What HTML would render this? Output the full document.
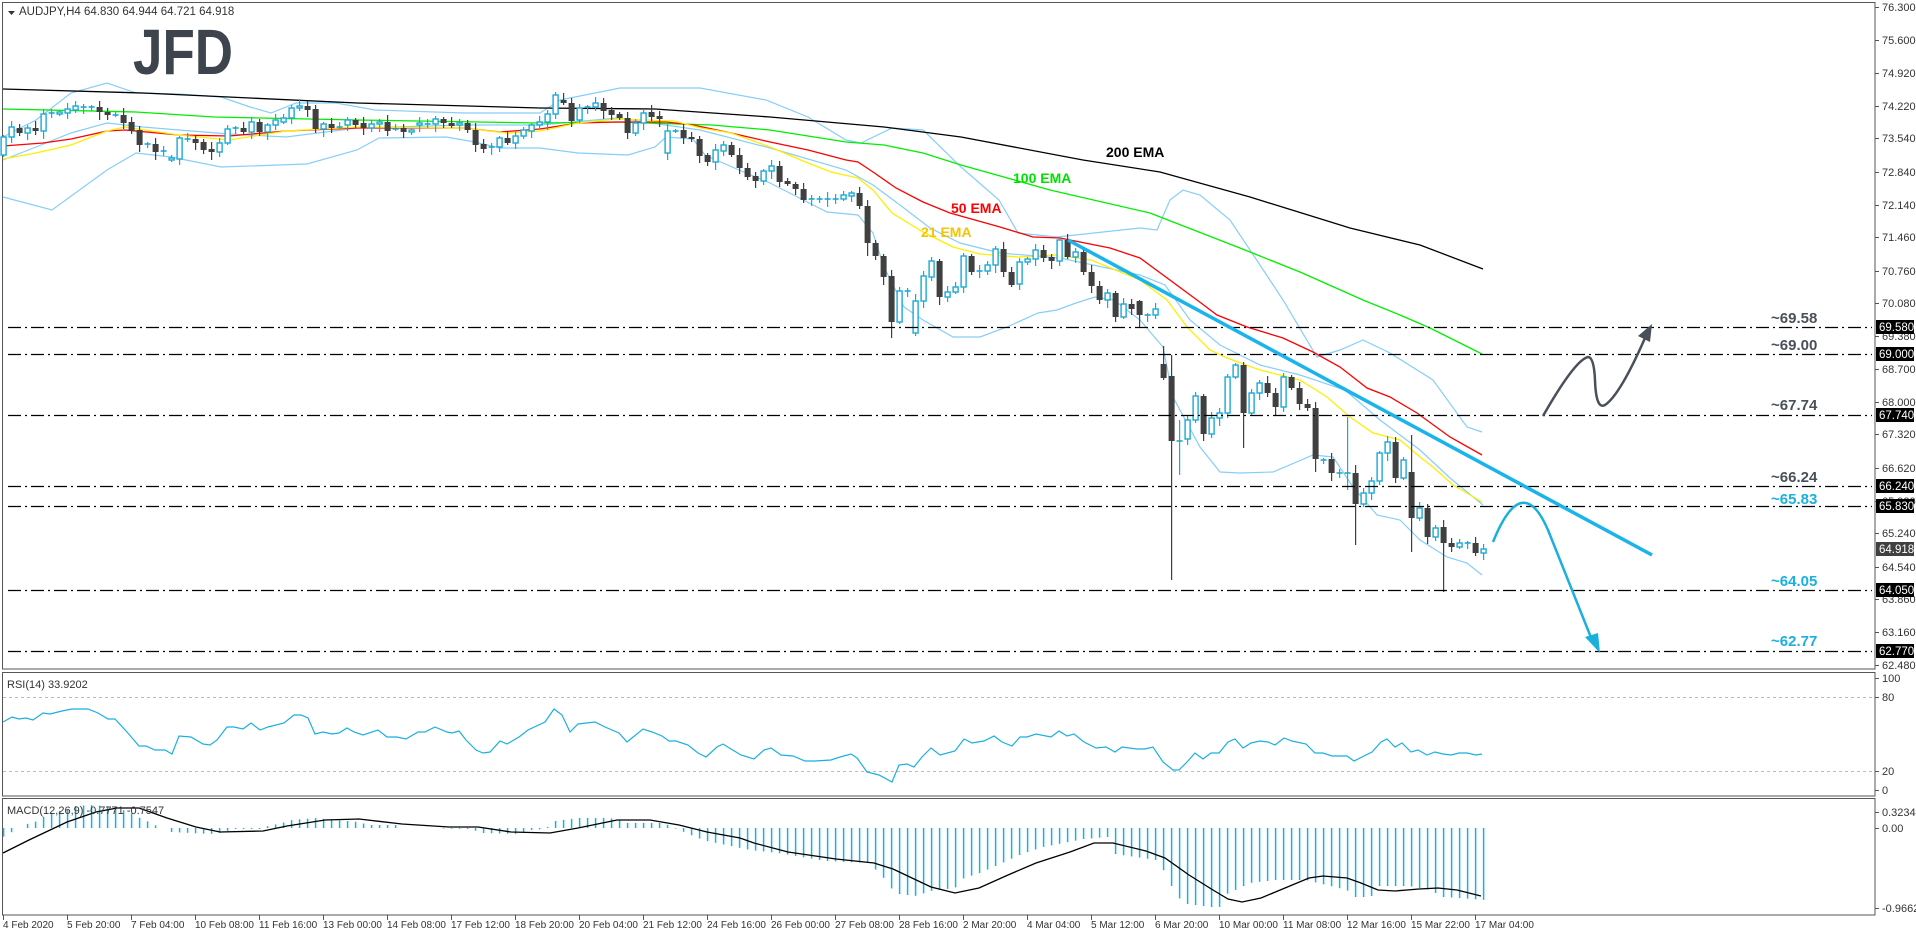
<!DOCTYPE html>
<html><head><meta charset="utf-8"><style>
html,body{margin:0;padding:0;background:#fff;}
svg{display:block;font-family:"Liberation Sans",Arial,sans-serif;}
.ax{font-size:11px;fill:#333;}
.tx{font-size:10px;fill:#333;}
.bx{font-size:11.5px;fill:#fff;}
.lv{font-size:15px;font-weight:bold;}
.em{font-size:14px;font-weight:bold;}
</style></head><body>
<svg id="s" width="1916" height="936" viewBox="0 0 1916 936" xmlns="http://www.w3.org/2000/svg">
<rect width="1916" height="936" fill="#fff"/>
<g fill="none" stroke="#555" stroke-width="1">
<rect x="2.5" y="2.5" width="1872.5" height="666.5"/>
<rect x="2.5" y="672.5" width="1872.5" height="123.5"/>
<rect x="2.5" y="798.5" width="1872.5" height="116.5"/>
</g>
<g stroke="#bbb" stroke-dasharray="3,3" stroke-width="1">
<line x1="3" y1="697.5" x2="1875" y2="697.5"/>
<line x1="3" y1="771.5" x2="1875" y2="771.5"/>
</g>
<text x="133" y="74" font-size="64" font-weight="bold" fill="#3d444d" textLength="100" lengthAdjust="spacingAndGlyphs">JFD</text>
<path d="M8 11 L15 11 L11.5 15 Z" fill="#333"/>
<text x="19" y="15" class="ax" style="font-size:11.5px">AUDJPY,H4  64.830 64.944 64.721 64.918</text>
<g id="dyn"></g>
<g stroke="#000" stroke-width="1.2" stroke-dasharray="13,4,2,4">
<line x1="8" y1="327.5" x2="1872" y2="327.5"/>
<line x1="8" y1="354.5" x2="1872" y2="354.5"/>
<line x1="8" y1="415.5" x2="1872" y2="415.5"/>
<line x1="8" y1="486.5" x2="1872" y2="486.5"/>
<line x1="8" y1="506.5" x2="1872" y2="506.5"/>
<line x1="8" y1="590.5" x2="1872" y2="590.5"/>
<line x1="8" y1="651.5" x2="1872" y2="651.5"/>
</g>
<g class="lv">
<text x="1771" y="323" fill="#4a5059">~69.58</text>
<text x="1771" y="350" fill="#4a5059">~69.00</text>
<text x="1771" y="410" fill="#4a5059">~67.74</text>
<text x="1771" y="482" fill="#4a5059">~66.24</text>
<text x="1771" y="504" fill="#1ab0e0">~65.83</text>
<text x="1771" y="586" fill="#1ab0e0">~64.05</text>
<text x="1771" y="646" fill="#1ab0e0">~62.77</text>
</g>
<text x="1106" y="157" class="em" fill="#000">200 EMA</text>
<text x="1013" y="183" class="em" fill="#00e000">100 EMA</text>
<text x="951" y="213" class="em" fill="#ff0000">50 EMA</text>
<text x="921" y="237" class="em" fill="#f5c400">21 EMA</text>
<line x1="1068" y1="240" x2="1652" y2="555" stroke="#1ab4ea" stroke-width="3.5"/>
<path d="M1493 542 Q1522 470 1548 530 L1592 640" fill="none" stroke="#1ab0dc" stroke-width="2.5"/>
<path d="M1600 653 L1585 637 L1598 633 Z" fill="#1ab0dc"/>
<path d="M1543 416 Q1575 360 1588 357 Q1594 357 1595 380 Q1596 410 1605 405 Q1620 395 1645 338" fill="none" stroke="#4a5059" stroke-width="2.5"/>
<path d="M1652 324 L1638 336 L1650 342 Z" fill="#4a5059"/>
<g class="ax">
<text x="1882" y="11">76.300</text><text x="1882" y="44">75.600</text><text x="1882" y="77">74.920</text>
<text x="1882" y="110">74.220</text><text x="1882" y="142">73.540</text><text x="1882" y="176">72.840</text>
<text x="1882" y="209">72.140</text><text x="1882" y="241">71.460</text><text x="1882" y="275">70.760</text>
<text x="1882" y="307">70.080</text><text x="1882" y="340">69.380</text><text x="1882" y="373">68.700</text>
<text x="1882" y="406">68.000</text><text x="1882" y="438">67.320</text><text x="1882" y="472">66.620</text>
<text x="1882" y="505">65.920</text><text x="1882" y="537">65.240</text><text x="1882" y="571">64.540</text>
<text x="1882" y="603">63.860</text><text x="1882" y="636">63.160</text><text x="1882" y="669">62.480</text>
<text x="1882" y="682">100</text><text x="1882" y="701">80</text><text x="1882" y="775">20</text><text x="1882" y="794">0</text>
<text x="1882" y="816">0.3234</text><text x="1882" y="832">0.00</text><text x="1882" y="912">-0.9662</text>
</g>
<g>
<rect x="1876" y="320" width="38" height="14" fill="#000"/><text x="1879" y="331" class="bx">69.580</text>
<rect x="1876" y="347" width="38" height="14" fill="#000"/><text x="1879" y="358" class="bx">69.000</text>
<rect x="1876" y="408" width="38" height="14" fill="#000"/><text x="1879" y="419" class="bx">67.740</text>
<rect x="1876" y="479" width="38" height="14" fill="#000"/><text x="1879" y="490" class="bx">66.240</text>
<rect x="1876" y="499" width="38" height="14" fill="#000"/><text x="1879" y="510" class="bx">65.830</text>
<rect x="1876" y="583" width="38" height="14" fill="#000"/><text x="1879" y="594" class="bx">64.050</text>
<rect x="1876" y="644" width="38" height="14" fill="#000"/><text x="1879" y="655" class="bx">62.770</text>
<rect x="1876" y="542" width="38" height="14" fill="#404040"/><text x="1879" y="553" class="bx">64.918</text>
</g>
<text x="7" y="688" class="ax">RSI(14) 33.9202</text>
<text x="7" y="814" class="ax">MACD(12,26,9) -0.7771 -0.7547</text>
<g class="tx">
<text x="3" y="928">4 Feb 2020</text><text x="67" y="928">5 Feb 20:00</text><text x="131" y="928">7 Feb 04:00</text>
<text x="195" y="928">10 Feb 08:00</text><text x="259" y="928">11 Feb 16:00</text><text x="323" y="928">13 Feb 00:00</text>
<text x="387" y="928">14 Feb 08:00</text><text x="451" y="928">17 Feb 12:00</text><text x="515" y="928">18 Feb 20:00</text>
<text x="579" y="928">20 Feb 04:00</text><text x="643" y="928">21 Feb 12:00</text><text x="707" y="928">24 Feb 16:00</text>
<text x="771" y="928">26 Feb 00:00</text><text x="835" y="928">27 Feb 08:00</text><text x="899" y="928">28 Feb 16:00</text>
<text x="963" y="928">2 Mar 20:00</text><text x="1027" y="928">4 Mar 04:00</text><text x="1091" y="928">5 Mar 12:00</text>
<text x="1155" y="928">6 Mar 20:00</text><text x="1219" y="928">10 Mar 00:00</text><text x="1283" y="928">11 Mar 08:00</text>
<text x="1347" y="928">12 Mar 16:00</text><text x="1411" y="928">15 Mar 22:00</text><text x="1475" y="928">17 Mar 04:00</text>
</g>
<g id="ticks" stroke="#555"></g>
</svg>
<script>
(function(){
var NS="http://www.w3.org/2000/svg";
var dyn=document.getElementById('dyn');
function el(t,a,p){var e=document.createElementNS(NS,t);for(var k in a)e.setAttribute(k,a[k]);(p||dyn).appendChild(e);return e;}
function poly(pts,col,w){el('polyline',{points:pts.map(function(p){return p[0]+','+p[1]}).join(' '),fill:'none',stroke:col,'stroke-width':w||1});}
var tk=document.getElementById('ticks');
for(var k=0;k<24;k++){var x=3.5+64*k;el('line',{x1:x,y1:915,x2:x,y2:920},tk);}
for(var y of [7,40,73,106,138,172,205,237,271,303,336,369,402,434,468,501,533,567,599,632,665,678,697,771,790,812,828,908]) el('line',{x1:1875,y1:y+.5,x2:1879,y2:y+.5,stroke:'#555'});
var ub=[[3,137],[36,120],[71,93],[107,83],[136,93],[179,94],[221,97],[250,107],[271,113],[296,103],[336,103],[375,110],[464,113],[540,113],[560,100],[620,88],[700,88],[766,100],[808,117],[846,140],[861,143],[892,128],[923,130],[961,167],[999,200],[1018,233],[1057,237],[1140,228],[1157,230],[1170,200],[1183,190],[1200,195],[1230,220],[1260,265],[1283,300],[1317,357],[1340,350],[1363,340],[1390,353],[1433,380],[1467,427],[1482,432]];
var mb=[[3,160],[36,147],[71,133],[107,123],[143,127],[179,130],[229,134],[286,137],[357,128],[464,125],[540,125],[617,118],[700,130],[770,148],[846,170],[873,185],[900,205],[930,228],[960,243],[1000,253],[1060,258],[1140,275],[1165,285],[1190,320],[1220,345],[1260,365],[1300,375],[1345,390],[1380,420],[1420,450],[1450,478],[1483,505]];
var lb=[[3,197],[52,210],[107,170],[136,153],[171,157],[221,167],[307,164],[357,150],[379,138],[446,137],[475,142],[500,148],[540,148],[578,153],[628,155],[655,147],[666,137],[693,139],[705,155],[739,170],[770,183],[827,212],[858,215],[873,233],[884,267],[904,307],[923,320],[953,337],[980,337],[1007,327],[1038,313],[1057,310],[1076,303],[1095,297],[1114,300],[1140,320],[1163,347],[1173,397],[1200,447],[1220,472],[1240,473],[1273,472],[1313,455],[1333,457],[1353,487],[1377,515],[1400,520],[1420,540],[1447,557],[1467,563],[1482,575]];
poly(ub,'#87cefa',1.2);poly(mb,'#87cefa',1.2);poly(lb,'#87cefa',1.2);
poly([[3,89],[143,93],[250,98],[357,103],[540,108],[655,109],[770,117],[884,127],[961,137],[1083,160],[1160,172],[1250,197],[1350,228],[1420,245],[1483,269]],'#000',1.3);
poly([[3,109],[136,112],[214,117],[357,120],[540,123],[617,122],[712,125],[770,130],[846,142],[884,145],[923,153],[961,165],[1050,190],[1150,213],[1240,248],[1300,272],[1363,300],[1400,315],[1430,328],[1482,354]],'#00ee00',1.3);
poly([[3,146],[43,143],[71,139],[107,131],[125,130],[179,135],[229,136],[286,131],[357,128],[464,128],[500,132],[540,129],[578,123],[617,122],[666,122],[693,125],[731,133],[770,142],[808,150],[846,160],[858,162],[873,172],[896,188],[923,202],[950,213],[1000,227],[1033,237],[1060,238],[1110,248],[1140,258],[1197,300],[1217,315],[1247,327],[1283,338],[1313,352],[1340,367],[1367,388],[1390,397],[1417,413],[1450,437],[1482,455]],'#ff0000',1.3);
poly([[3,159],[36,153],[71,145],[107,131],[125,127],[179,135],[229,140],[286,131],[357,127],[464,128],[507,133],[540,131],[578,123],[617,119],[674,121],[701,128],[731,133],[770,147],[808,163],[831,172],[858,178],[873,190],[892,213],[923,232],[953,247],[980,254],[1018,257],[1057,255],[1091,260],[1140,280],[1167,300],[1187,327],[1210,350],[1227,358],[1260,370],[1300,380],[1327,397],[1350,417],[1373,433],[1400,440],[1420,457],[1433,467],[1453,485],[1482,502]],'#ffee00',1.3);
var C=[[137,155,1],[127,137,1],[128,133,0],[128,133,1],[128,131,0],[114,131,1],[113,113,2],[112,114,1],[109,113,1],[106,110,1],[107,107,2],[107,107,2],[107,112,0],[112,115,0],[115,115,2],[115,123,0],[122,131,0],[130,145,0],[144,144,2],[144,152,0],[151,151,2],[158,160,1],[138,159,1],[139,139,2],[139,143,0],[142,150,0],[149,152,0],[143,152,1],[129,143,1],[128,128,2],[128,132,0],[122,132,1],[122,132,0],[125,132,1],[120,125,1],[118,122,1],[108,118,1],[106,108,1],[106,110,0],[109,129,0],[124,129,1],[124,128,0],[127,127,2],[120,125,1],[120,125,0],[123,128,0],[124,128,1],[122,124,1],[122,131,0],[129,129,2],[128,132,0],[130,132,1],[123,125,1],[124,124,2],[119,124,1],[119,123,0],[123,126,0],[123,125,1],[123,130,0],[130,145,0],[144,149,0],[147,147,2],[138,147,1],[138,143,0],[136,143,1],[130,136,1],[125,131,1],[122,125,1],[114,122,1],[95,114,1],
[100,103,0],[103,121,0],[108,120,1],[107,107,2],[103,107,1],[103,111,0],[110,115,0],[114,118,0],[118,133,0],[123,133,1],[113,123,1],[112,117,0],[116,119,0],[131,153,1],[131,131,2],[130,138,0],[137,139,0],[139,156,0],[155,162,0],[150,162,1],[145,151,1],[145,155,0],[155,168,0],[168,177,0],[176,181,0],[171,181,1],[166,171,1],[166,182,0],[181,184,0],[184,189,0],[189,200,0],[199,199,2],[199,199,2],[199,199,2],[199,199,2],[195,199,1],[193,196,1],[193,206,0],[206,243,0],[243,256,0],[256,277,0],[276,322,0],[291,322,1],[291,291,2],[301,333,1],[276,301,1],[261,277,1],[261,297,0],[292,297,1],[287,292,1],[256,287,1],[256,272,0],[271,271,2],[265,271,1],[249,265,1],[249,272,0],[272,285,0],[262,284,1],[259,262,1],[250,259,1],[250,258,0],[257,261,0],[240,261,1],[240,257,0],[252,257,1],[252,272,0],[272,286,0],[286,300,0],[293,300,1],[293,317,0],[304,317,1],[304,309,0],[301,315,0],[315,315,2],[309,315,1],
[364,378,0],[376,441,0],[441,441,2],[420,439,1],[396,420,1],[396,434,0],[418,434,1],[413,418,1],[377,413,1],[365,377,1],[365,413,0],[393,413,1],[383,393,1],[383,393,0],[393,407,0],[377,407,1],[377,388,0],[388,404,0],[404,408,0],[408,459,0],[460,460,2],[459,473,0],[473,473,2],[473,473,2],[473,504,0],[493,504,1],[481,493,1],[453,481,1],[442,453,1],[442,478,0],[460,478,1],[472,518,0],[508,518,1],[508,537,0],[528,537,1],[527,543,0],[543,547,0],[543,547,1],[543,543,2],[543,553,0],[549,553,1]];
var W={111:[270,338],145:[346,380],146:[355,580],147:[420,475],155:[362,448],164:[402,472],168:[417,490],169:[465,545],176:[435,552],180:[520,592],142:[300,327],83:[122,160],108:[200,256]};
for(var i=0;i<C.length;i++){
 var c=C[i],x=3.6+8*i,t=c[0],b=c[1];
 var r=((i*37)%11), hi=t-2-(r%6), lo=b+2+((i*53)%7);
 if(W[i]){hi=W[i][0];lo=W[i][1];}
 var col=c[2]==0?'#404040':'#1aa9d6';
 el('line',{x1:x,y1:hi,x2:x,y2:lo,stroke:col,'stroke-width':1.2});
 if(c[2]==2){el('line',{x1:x-3,y1:t,x2:x+3,y2:t,stroke:col,'stroke-width':1.6});}
 else if(c[2]==0){el('rect',{x:x-3,y:t,width:6,height:Math.max(b-t,1.5),fill:col});}
 else{el('rect',{x:x-2.5,y:t,width:5,height:Math.max(b-t,1.5),fill:'#fff',stroke:col,'stroke-width':1.4});}
}
var rsi=[[3,722],[12,717],[19,719],[26,718],[33,720],[43,713],[50,714],[62,711],[72,709],[88,709],[98,713],[108,719],[115,719],[127,732],[139,746],[146,746],[155,750],[165,750],[172,754],[179,736],[191,737],[203,744],[210,745],[217,740],[227,727],[234,727],[243,729],[251,723],[260,730],[268,727],[284,723],[294,715],[301,715],[308,718],[315,734],[323,732],[332,734],[339,733],[347,728],[354,732],[363,735],[378,730],[387,737],[397,737],[406,739],[418,732],[425,732],[435,727],[447,732],[452,733],[459,731],[466,740],[476,750],[483,753],[490,752],[500,741],[507,744],[519,737],[528,730],[545,722],[554,709],[562,715],[570,732],[578,724],[595,722],[605,727],[619,733],[627,742],[643,729],[652,732],[662,736],[669,741],[676,741],[688,745],[698,753],[706,757],[717,747],[723,744],[731,749],[741,755],[754,759],[764,750],[771,748],[781,755],[793,756],[805,761],[815,761],[831,760],[840,757],[851,754],[857,758],[867,772],[879,775],[892,782],[899,765],[907,764],[914,767],[922,757],[931,748],[940,755],[955,751],[964,739],[972,743],[984,741],[994,736],[1002,742],[1012,746],[1020,737],[1027,737],[1036,734],[1051,737],[1059,731],[1067,736],[1074,734],[1084,742],[1096,748],[1106,747],[1115,752],[1122,747],[1137,749],[1145,749],[1153,747],[1163,762],[1173,770],[1179,770],[1187,762],[1195,753],[1203,759],[1211,753],[1219,753],[1228,742],[1235,739],[1243,748],[1251,743],[1260,741],[1268,742],[1275,745],[1284,738],[1292,741],[1306,744],[1315,753],[1323,753],[1332,756],[1347,756],[1354,761],[1364,756],[1372,752],[1381,742],[1387,739],[1395,747],[1402,743],[1411,752],[1418,750],[1427,755],[1435,752],[1443,754],[1451,755],[1459,753],[1467,753],[1476,755],[1482,754]];
poly(rsi,'#1ab0e0',1.2);
var H=[[3,-9],[12,-4],[20,0],[27,4],[35,6],[43,11],[51,15],[59,17],[67,18],[75,22],[91,23],[115,21],[123,18],[131,15],[140,10],[147,7],[155,3],[163,0],[171,-4],[210,-6],[219,-5],[235,-1],[260,-1],[268,2],[282,5],[292,8],[315,10],[335,8],[359,6],[368,3],[397,3],[404,0],[470,-1],[483,-5],[521,-6],[530,-2],[545,-1],[555,7],[578,10],[607,10],[617,9],[626,5],[664,5],[674,0],[684,-4],[698,-10],[707,-13],[750,-22],[778,-25],[826,-33],[869,-35],[876,-42],[883,-49],[892,-61],[899,-66],[915,-68],[931,-63],[955,-60],[964,-50],[980,-45],[1000,-36],[1022,-26],[1043,-19],[1084,-11],[1108,-9],[1115,-26],[1156,-32],[1163,-41],[1171,-57],[1179,-70],[1187,-76],[1219,-80],[1227,-66],[1250,-55],[1275,-52],[1306,-52],[1314,-54],[1347,-62],[1354,-69],[1371,-69],[1378,-58],[1409,-58],[1430,-62],[1443,-69],[1486,-72]];
function interp(a,x){for(var j=1;j<a.length;j++){if(x<=a[j][0]){var p=a[j-1],q=a[j];return p[1]+(q[1]-p[1])*(x-p[0])/(q[0]-p[0]);}}return a[a.length-1][1];}
for(var i=0;i<186;i++){var x=3.6+8*i,h=interp(H,x);if(Math.abs(h)<0.5)continue;el('line',{x1:x,y1:828,x2:x,y2:828-h,stroke:'#1ab0e0','stroke-width':1.5});}
poly([[3,853],[29,840],[67,822],[96,812],[117,808],[139,808],[167,818],[196,827],[220,832],[263,831],[287,826],[325,820],[359,819],[402,824],[449,827],[478,827],[511,832],[550,833],[578,828],[617,820],[650,820],[679,825],[707,832],[740,838],[754,843],[788,852],[836,859],[874,863],[893,869],[912,878],[931,887],[955,893],[979,888],[1008,875],[1036,863],[1070,852],[1094,843],[1113,843],[1146,851],[1165,858],[1189,875],[1213,890],[1228,899],[1242,902],[1261,898],[1285,888],[1309,878],[1323,876],[1347,878],[1361,883],[1378,890],[1395,891],[1419,889],[1438,888],[1457,890],[1481,896]],'#000',1.3);
})();
</script>
</body></html>
